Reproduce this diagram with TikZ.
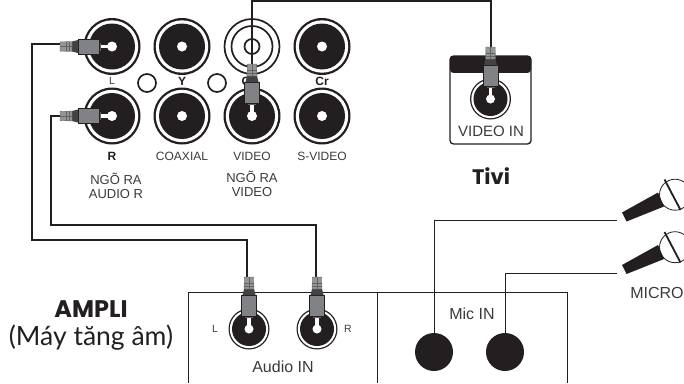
\documentclass[tikz,border=0pt]{standalone}
\usepackage{fontspec}
\setmainfont{Liberation Sans}
\newfontfamily\headfont{Poppins}
\newfontfamily\subfont{Lato}
\definecolor{ink}{HTML}{231F20}
\definecolor{plugrey}{HTML}{808285}
\definecolor{labelc}{HTML}{3A3A3A}
\tikzset{
  wire/.style={draw=ink,line width=1.5pt,line join=miter},
  thinwire/.style={draw=ink,line width=1pt},
  frame/.style={draw=ink,line width=1pt},
  lab/.style={text=labelc,font=\fontsize{12}{14.5}\selectfont,align=center,inner sep=0pt},
  smalllab/.style={text=labelc,font=\fontsize{10.5}{12}\selectfont,inner sep=0pt},
  boldlab/.style={text=ink,font=\bfseries\fontsize{12}{14}\selectfont,inner sep=0pt},
  pics/bigjack/.style={code={
    \fill[ink] (0,0) circle (28.5);
    \fill[white] (0,0) circle (26.2);
    \fill[ink] (0,0) circle (23);
    \fill[white] (0,0) circle (5);
  }},
  pics/smalljack/.style={code={
    \fill[ink] (0,0) circle (20.5);
    \fill[white] (0,0) circle (19.2);
    \fill[ink] (0,0) circle (17);
    \fill[white] (0,0) circle (4.5);
  }},
  pics/plugin/.style={code={
    \fill[white] (-13,-1.6) rectangle (1,1.6);
    \fill[white] (0,0) circle (3.5);
    \fill[ink!70] (-15,-4) rectangle (-11,4);
    \fill[plugrey,draw=ink,line width=.6pt] (-34,-7.5) rectangle (-12.5,7.5);
    \fill[ink!85] (-40,-5) -- (-34,-6.5) -- (-34,6.5) -- (-40,5) -- cycle;
    \fill[plugrey!85] (-52,-4.6) -- (-40,-5) -- (-40,5) -- (-52,4.6) -- cycle;
    \draw[ink!70,line width=.3pt] (-52,-4.6) -- (-40,-5) -- (-40,5) -- (-52,4.6) -- cycle;
    \foreach \s in {-46,-43} \draw[ink!70,line width=.3pt] (\s,-4.6) -- (\s,4.6);
    \draw[ink!70,line width=.3pt] (-52,0) -- (-40,0);
  }},
  pics/mike/.style={code={
    \draw[ink,line width=.8pt,fill=white] (53,-17.8) circle (15.5);
    \fill[ink] (0,0) -- (4.5,9) -- (42,-6) -- (36,-20) -- cycle;
    \draw[ink,line width=1.8pt] (42.5,-33) -- (58.5,-2.5);
  }},
}
\begin{document}
\begin{tikzpicture}[x=1pt,y=-1pt]
\useasboundingbox (0,0) rectangle (684,383);
\clip (0,0) rectangle (684,383);

% back panel jacks
\coordinate (jL) at (112,46.5);
\coordinate (jY) at (182,46.5);
\coordinate (jC) at (252,46.5);
\coordinate (jCr) at (322,46.5);
\coordinate (jR) at (112,116);
\coordinate (jCo) at (182,116);
\coordinate (jV) at (252,116);
\coordinate (jS) at (322,116);
\pic at (jL) {bigjack};
\pic at (jY) {bigjack};
\pic at (jCr) {bigjack};
\pic at (jR) {bigjack};
\pic at (jCo) {bigjack};
\pic at (jV) {bigjack};
\pic at (jS) {bigjack};
% ring-only jack (C)
\draw[ink,line width=1.7pt] (jC) circle (27.5);
\draw[ink,line width=1.7pt] (jC) circle (20.5);
\draw[ink,line width=1.7pt] (jC) circle (7.5);
% LEDs
\node[circle,draw=ink,line width=1.7pt,minimum size=18pt,inner sep=0pt] (led1) at (147,83) {};
\node[circle,draw=ink,line width=1.7pt,minimum size=18pt,inner sep=0pt] (led2) at (217,83) {};

% labels
\node[smalllab] (tL) at (112,81) {L};
\node[boldlab] (tY) at (182,81) {Y};
\node[boldlab] (tCc) at (246,81) {C};
\node[boldlab] (tCr) at (322,81) {Cr};
\node[boldlab] (tR) at (112,156) {R};
\node[lab] (tCo) at (182,156) {COAXIAL};
\node[lab] (tV) at (252,156) {VIDEO};
\node[lab] (tS) at (322,156) {S-VIDEO};
\node[lab,font=\fontsize{13}{14.5}\selectfont] (tA) at (116,186) {NGÕ RA\\AUDIO R};
\node[lab,font=\fontsize{13}{14.5}\selectfont] (tVv) at (252,184) {NGÕ RA\\VIDEO};

% Tivi
\node[draw=ink,line width=1.3pt,rounded corners=3.5pt,minimum width=81pt,minimum height=88pt,inner sep=0pt] (tv) at (490.5,100) {};
\fill[ink,rounded corners=3.5pt] (450,56) rectangle (531,73);
\fill[white] (450.7,73) rectangle (530.3,78);
\coordinate (jTV) at (490.5,99);
\pic at (jTV) {smalljack};
\node[lab,font=\fontsize{15}{17}\selectfont] (tVI) at (491,131) {VIDEO IN};
\node[text=ink,font=\headfont\bfseries\fontsize{21}{23}\selectfont,inner sep=0pt] (tTivi) at (491,176) {Tivi};

% Ampli panel
\coordinate (bl) at (188,383);
\coordinate (tl) at (188,292.5);
\coordinate (md) at (377.5,292.5);
\coordinate (mb) at (377.5,383);
\coordinate (tr) at (567.5,292.5);
\coordinate (br) at (567.5,383);
\draw[frame] (bl) -- (tl) -- (tr) -- (br);
\draw[frame] (md) -- (mb);
\coordinate (jAL) at (249,329);
\coordinate (jAR) at (317,329);
\pic at (jAL) {smalljack};
\pic at (jAR) {smalljack};
\node[smalllab] (tAL) at (215,329) {L};
\node[smalllab] (tAR) at (348,329) {R};
\node[lab,font=\fontsize{16}{18}\selectfont] (tAu) at (283,367) {Audio IN};
\node[lab,font=\fontsize{16}{18}\selectfont] (tMi) at (472,314) {Mic IN};
\node[circle,fill=ink,minimum size=38pt,inner sep=0pt] (m1) at (434,352) {};
\node[circle,fill=ink,minimum size=38pt,inner sep=0pt] (m2) at (505,352) {};

% wires
\coordinate (e1) at (60,44);
\coordinate (e2) at (60,116);
\coordinate (p1) at (247,277);
\coordinate (p2) at (316,277);
\coordinate (e3) at (252,68);
\coordinate (e4) at (491,47);
\draw[wire] (e1) -- (32,44) |- (247,240) -- (p1);
\draw[wire] (e2) -- (51,116) |- (316,225) -- (p2);
\draw[wire] (e3) -- (252,1) -| (e4);

% plugs
\pic at (jL) {plugin};
\pic at (jR) {plugin};
\pic[rotate=-90] at (jV) {plugin};
\pic[rotate=-90] at (jTV) {plugin};
\pic[rotate=-90] at (jAL) {plugin};
\pic[rotate=-90] at (jAR) {plugin};

% microphones
\coordinate (mk1) at (622,212.5);
\coordinate (mk2) at (622,265);
\coordinate (w1) at (617,220.5);
\coordinate (w2) at (617,273.5);
\draw[thinwire] (m1.north) -- (434,220.5) -- (w1);
\draw[thinwire] (m2.north) -- (505,273.5) -- (w2);
\pic at (mk1) {mike};
\pic at (mk2) {mike};
\node[lab,font=\fontsize{16}{18}\selectfont] (tMc) at (657,293) {MICRO};

% Ampli title
\node[text=ink,font=\headfont\bfseries\fontsize{24}{26}\selectfont,inner sep=0pt] (tAm) at (91,309) {AMPLI};
\node[text=ink,font=\subfont\fontsize{26.5}{28}\selectfont,inner sep=0pt] (tMa) at (91,338) {(Máy tăng âm)};
\end{tikzpicture}
\end{document}
